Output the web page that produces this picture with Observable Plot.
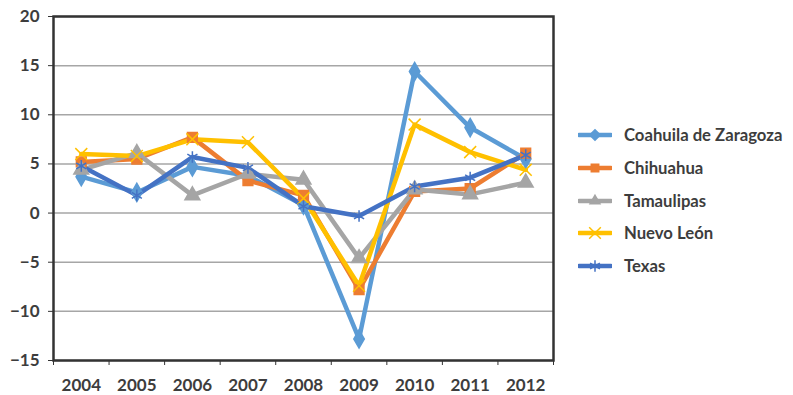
<!DOCTYPE html>
<html>
<head>
<meta charset="utf-8">
<script src="https://cdn.jsdelivr.net/npm/d3@7"></script>
<script src="https://cdn.jsdelivr.net/npm/@observablehq/plot@0.6"></script>
<style>
  html, body { margin: 0; padding: 0; background: #fff; }
  #wrap { position: relative; width: 793px; height: 395px; font-family: Lato, "Open Sans", sans-serif; }
  #legend { position: absolute; left: 578px; top: 119px; }
  .item { display: flex; align-items: center; height: 32.7px; font-size: 16.7px; font-weight: 700; color: #3d3d3d; }
  .item svg { margin-right: 12px; }
</style>
</head>
<body>
<div id="wrap"><div id="chart"></div><div id="legend"></div></div>
<script>
const years = [2004, 2005, 2006, 2007, 2008, 2009, 2010, 2011, 2012];
const seriesNames = ["Coahuila de Zaragoza", "Chihuahua", "Tamaulipas", "Nuevo León", "Texas"];
const coahuila   = [3.7, 2.1, 4.7, 3.8, 0.8, -12.8, 14.4, 8.7, 5.5];
const chihuahua  = [5.2, 5.5, 7.7, 3.3, 1.8, -7.8, 2.2, 2.5, 6.1];
const tamaulipas = [4.4, 6.1, 1.8, 4.0, 3.4, -4.6, 2.4, 1.9, 3.1];
const nuevoLeon  = [6.0, 5.8, 7.5, 7.2, 1.5, -7.4, 9.0, 6.2, 4.4];
const texas      = [4.8, 1.8, 5.7, 4.6, 0.7, -0.3, 2.7, 3.6, 5.9];
const yTicks = [-15, -10, -5, 0, 5, 10, 15, 20];
const seriesColors = ["#5B9BD5", "#ED7D31", "#A5A5A5", "#FFC000", "#4472C4"];
const seriesSymbols = ["diamond", "square", "triangle", "times", "asterisk"];

const seriesValues = [coahuila, chihuahua, tamaulipas, nuevoLeon, texas];
const data = seriesNames.flatMap((name, i) =>
  years.map((year, j) => ({ name, year, value: seriesValues[i][j] })));
const boundaries = [...years.map(y => y - 0.5), years[years.length - 1] + 0.5];

const chart = Plot.plot({
  width: 570,
  height: 395,
  marginLeft: 53,
  marginRight: 17,
  marginTop: 16,
  marginBottom: 35,
  x: { domain: [boundaries[0], boundaries[boundaries.length - 1]] },
  y: { domain: [-15, 20] },
  color: { domain: seriesNames, range: seriesColors },
  symbol: { domain: seriesNames, range: seriesSymbols },
  style: { fontFamily: "Lato, 'Open Sans', sans-serif", fontSize: "17px", fontWeight: 700, color: "#3d3d3d", background: "#fff" },
  marks: [
    Plot.gridY({ ticks: yTicks, stroke: "#a6a6a6", strokeOpacity: 1, strokeWidth: 1.5 }),
    Plot.axisY({ ticks: yTicks, tickSize: 5, tickPadding: 9, label: null, stroke: "#333" }),
    Plot.axisX({ ticks: boundaries, tickSize: 5, tickFormat: () => "", label: null, stroke: "#333" }),
    Plot.axisX({ ticks: years, tickSize: 0, tickPadding: 18, tickFormat: d => String(d), label: null }),
    Plot.frame({ stroke: "#333", strokeWidth: 2.5 }),
    Plot.line(data, { x: "year", y: "value", z: "name", stroke: "name", strokeWidth: 4.5 }),
    Plot.dot(data, { x: "year", y: "value", symbol: "name", fill: "name", stroke: "name", strokeWidth: 1.5, r: 5.5 })
  ]
});
document.getElementById("chart").appendChild(chart);

const legend = d3.select("#legend");
const symMap = { diamond: d3.symbolDiamond2, square: d3.symbolSquare2, triangle: d3.symbolTriangle2, times: d3.symbolTimes, asterisk: d3.symbolAsterisk };
seriesNames.forEach((name, i) => {
  const item = legend.append("div").attr("class", "item");
  const svg = item.append("svg").attr("width", 34).attr("height", 16);
  svg.append("line").attr("x1", 1).attr("x2", 33).attr("y1", 8).attr("y2", 8)
    .attr("stroke", seriesColors[i]).attr("stroke-width", 4.5).attr("stroke-linecap", "round");
  const filled = i < 3;
  svg.append("path").attr("transform", "translate(17,8)")
    .attr("d", d3.symbol(symMap[seriesSymbols[i]], filled ? 70 : 90)())
    .attr("fill", filled ? seriesColors[i] : "none").attr("stroke", seriesColors[i]).attr("stroke-width", 1.5);
  item.append("span").text(name);
});
</script>
</body>
</html>
